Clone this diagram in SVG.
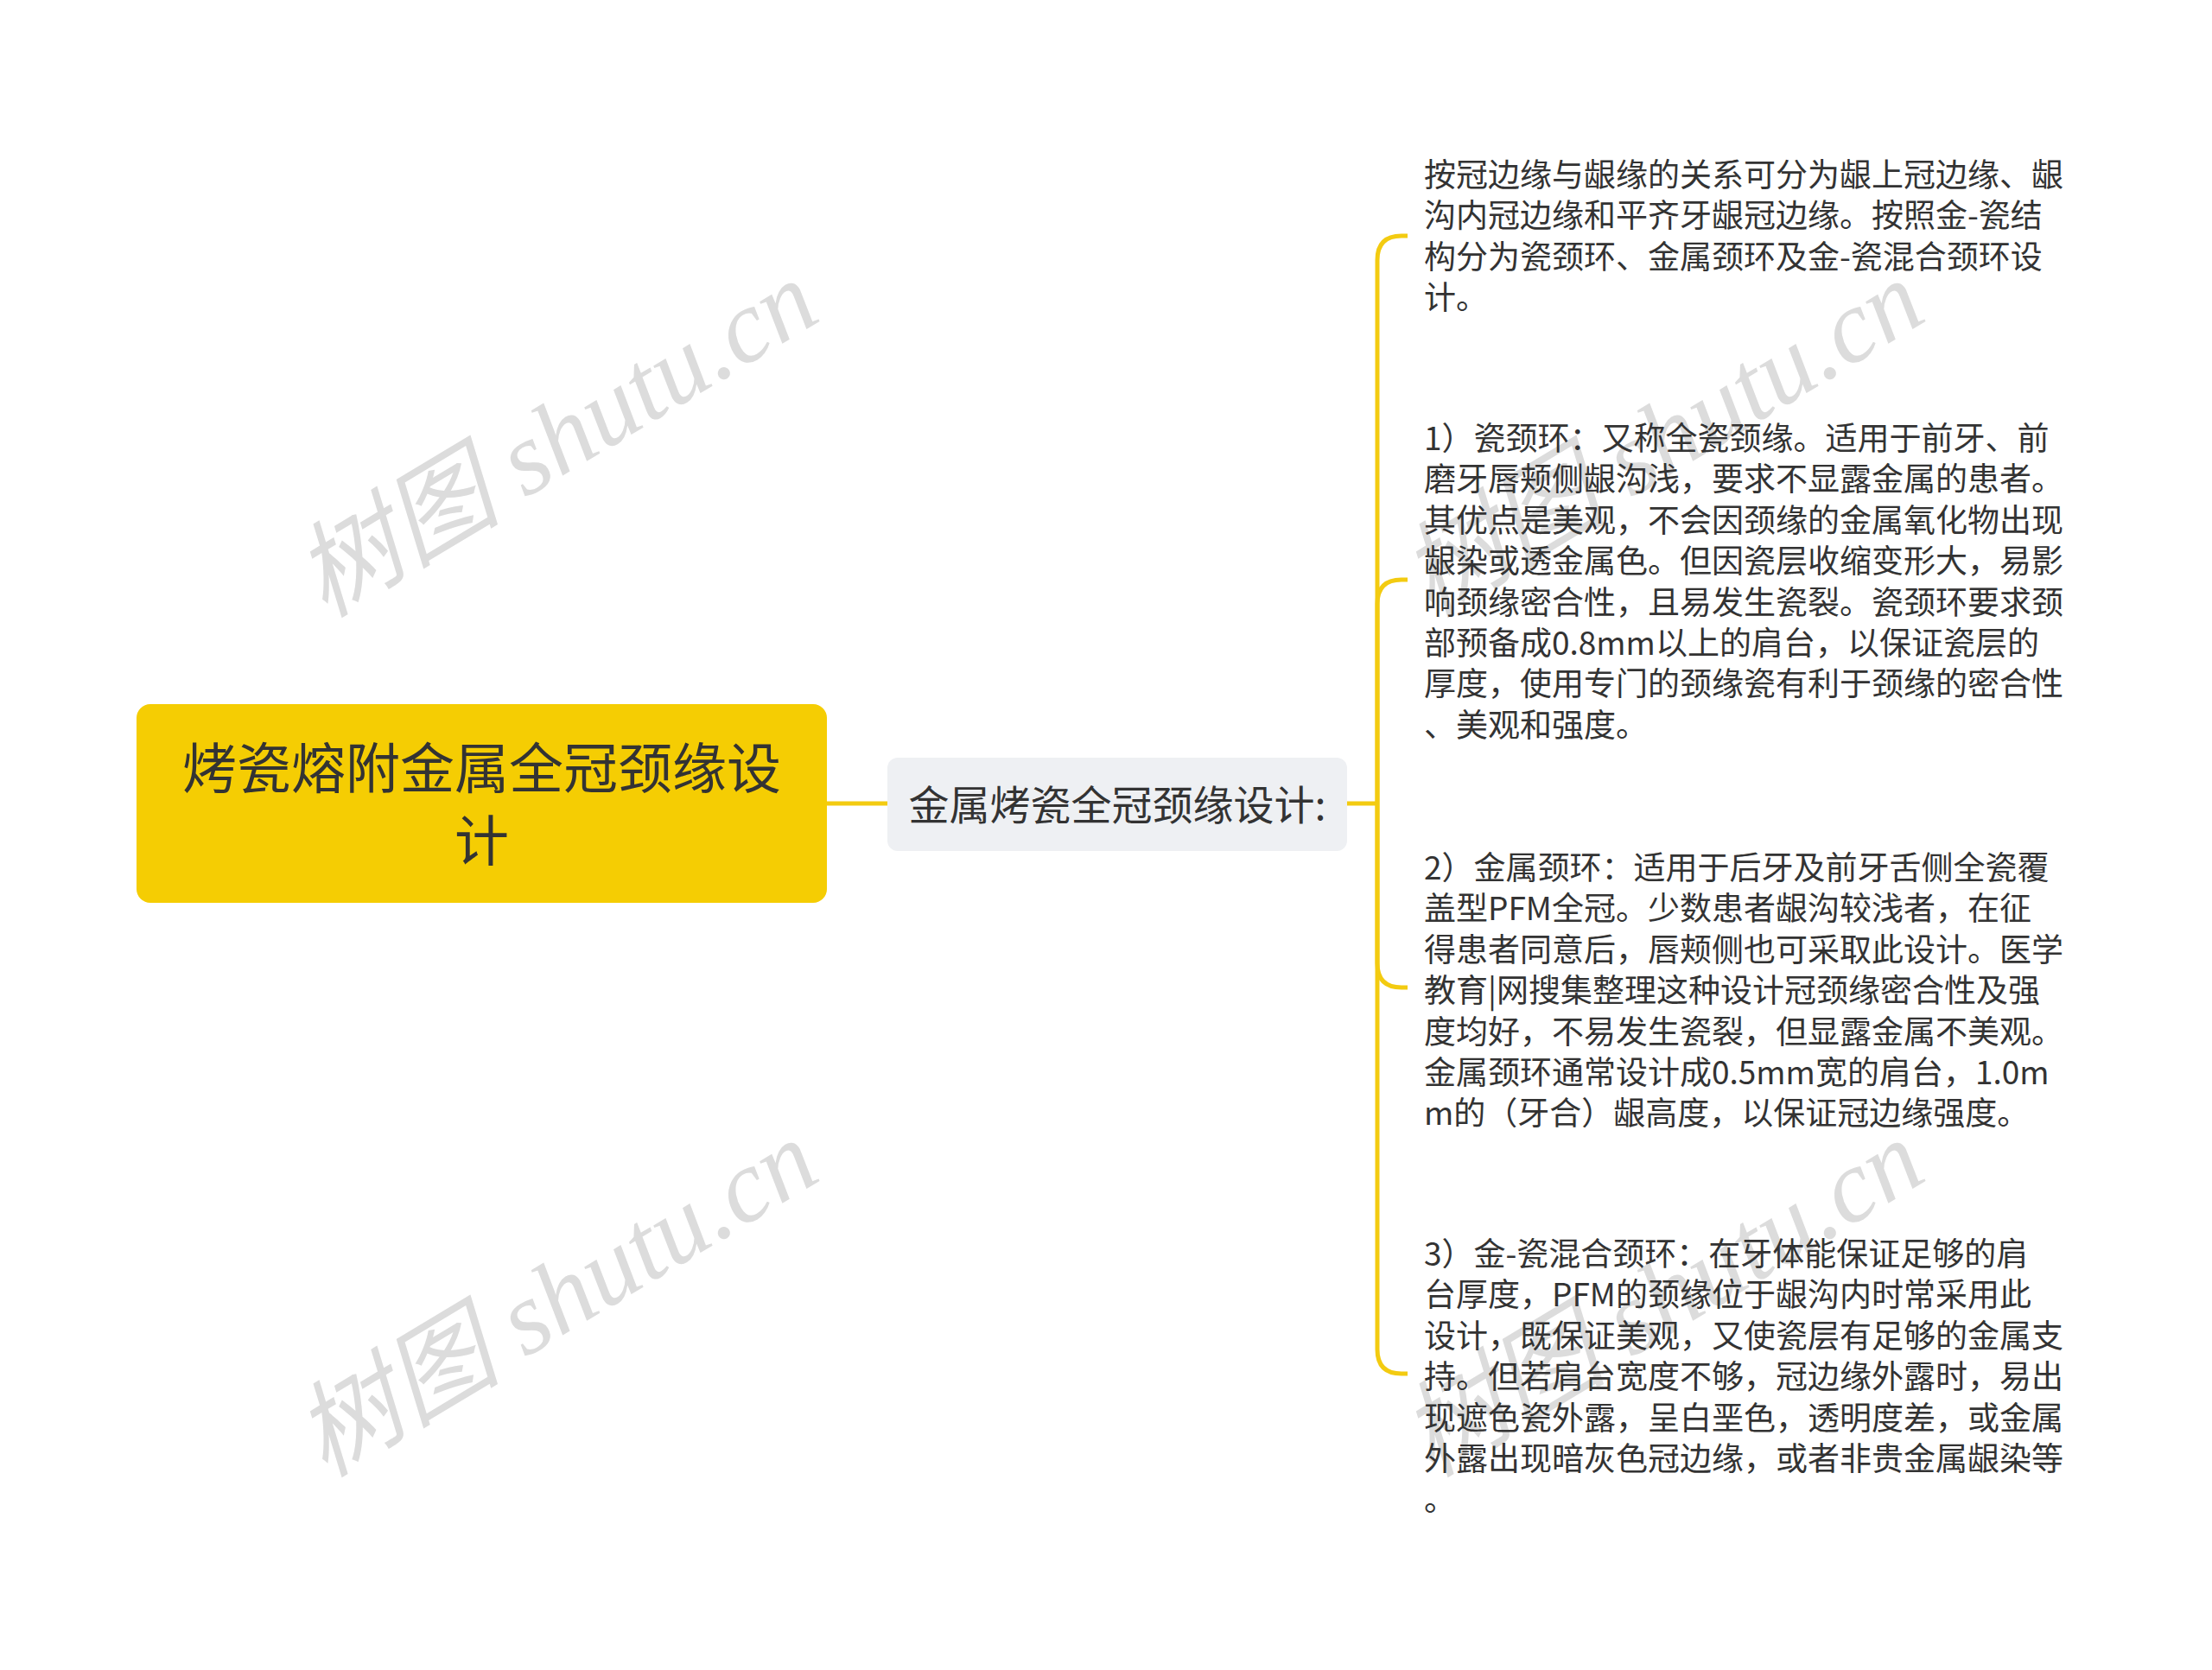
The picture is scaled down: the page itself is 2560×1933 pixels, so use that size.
<svg xmlns="http://www.w3.org/2000/svg" width="2560" height="1933" viewBox="0 0 2560 1933">
<style>
.wm{font-family:"Liberation Serif","Noto Sans CJK SC",serif;font-style:italic;font-size:120px;fill:#dcdcdc;}
.t{font-family:"Noto Sans CJK SC","Noto Sans",sans-serif;fill:#333333;}
.leaf{font-size:37px;}
.conn{fill:none;stroke:#f3cb11;stroke-width:5;}
</style>
<rect width="2560" height="1933" fill="#ffffff"/>
<g id="watermarks">
<text class="wm" x="645" y="548" text-anchor="middle" transform="rotate(-31 645 510)">树图 shutu.cn</text>
<text class="wm" x="645" y="1543" text-anchor="middle" transform="rotate(-31 645 1505)">树图 shutu.cn</text>
<text class="wm" x="1925" y="548" text-anchor="middle" transform="rotate(-31 1925 510)">树图 shutu.cn</text>
<text class="wm" x="1925" y="1543" text-anchor="middle" transform="rotate(-31 1925 1505)">树图 shutu.cn</text>
</g>
<g id="connectors">
<path class="conn" d="M957,930 H1027"/>
<path class="conn" d="M1559,930 H1594"/>
<path class="conn" d="M1594,930 V301 Q1594,273 1622,273 H1629"/>
<path class="conn" d="M1594,930 V699 Q1594,671 1622,671 H1629"/>
<path class="conn" d="M1594,930 V1115 Q1594,1143 1622,1143 H1629"/>
<path class="conn" d="M1594,930 V1562 Q1594,1590 1622,1590 H1629"/>
</g>
<g id="root">
<rect x="158" y="815" width="799" height="230" rx="16" fill="#f5cd03"/>
<text class="t" font-size="63" text-anchor="middle"><tspan x="557.5" y="912">烤瓷熔附金属全冠颈缘设</tspan><tspan x="557.5" y="996">计</tspan></text>
</g>
<g id="middle">
<rect x="1027" y="877" width="532" height="108" rx="12" fill="#eef0f3"/>
<text class="t" font-size="47" x="1293" y="949" text-anchor="middle">金属烤瓷全冠颈缘设计:</text>
</g>
<g id="leaf1">
<text class="t leaf"><tspan x="1648" y="216">按冠边缘与龈缘的关系可分为龈上冠边缘、龈</tspan><tspan x="1648" y="263.4">沟内冠边缘和平齐牙龈冠边缘。按照金-瓷结</tspan><tspan x="1648" y="310.8">构分为瓷颈环、金属颈环及金-瓷混合颈环设</tspan><tspan x="1648" y="358.2">计。</tspan></text>
</g>
<g id="leaf2">
<text class="t leaf"><tspan x="1648" y="521">1）瓷颈环：又称全瓷颈缘。适用于前牙、前</tspan><tspan x="1648" y="568.4">磨牙唇颊侧龈沟浅，要求不显露金属的患者。</tspan><tspan x="1648" y="615.8">其优点是美观，不会因颈缘的金属氧化物出现</tspan><tspan x="1648" y="663.2">龈染或透金属色。但因瓷层收缩变形大，易影</tspan><tspan x="1648" y="710.6">响颈缘密合性，且易发生瓷裂。瓷颈环要求颈</tspan><tspan x="1648" y="758">部预备成0.8mm以上的肩台，以保证瓷层的</tspan><tspan x="1648" y="805.4">厚度，使用专门的颈缘瓷有利于颈缘的密合性</tspan><tspan x="1648" y="852.8">、美观和强度。</tspan></text>
</g>
<g id="leaf3">
<text class="t leaf"><tspan x="1648" y="1018">2）金属颈环：适用于后牙及前牙舌侧全瓷覆</tspan><tspan x="1648" y="1065.4">盖型PFM全冠。少数患者龈沟较浅者，在征</tspan><tspan x="1648" y="1112.8">得患者同意后，唇颊侧也可采取此设计。医学</tspan><tspan x="1648" y="1160.2">教育|网搜集整理这种设计冠颈缘密合性及强</tspan><tspan x="1648" y="1207.6">度均好，不易发生瓷裂，但显露金属不美观。</tspan><tspan x="1648" y="1255">金属颈环通常设计成0.5mm宽的肩台，1.0m</tspan><tspan x="1648" y="1302.4">m的（牙合）龈高度，以保证冠边缘强度。</tspan></text>
</g>
<g id="leaf4">
<text class="t leaf"><tspan x="1648" y="1465">3）金-瓷混合颈环：在牙体能保证足够的肩</tspan><tspan x="1648" y="1512.4">台厚度，PFM的颈缘位于龈沟内时常采用此</tspan><tspan x="1648" y="1559.8">设计，既保证美观，又使瓷层有足够的金属支</tspan><tspan x="1648" y="1607.2">持。但若肩台宽度不够，冠边缘外露时，易出</tspan><tspan x="1648" y="1654.6">现遮色瓷外露，呈白垩色，透明度差，或金属</tspan><tspan x="1648" y="1702">外露出现暗灰色冠边缘，或者非贵金属龈染等</tspan><tspan x="1648" y="1749.4">。</tspan></text>
</g>
</svg>
